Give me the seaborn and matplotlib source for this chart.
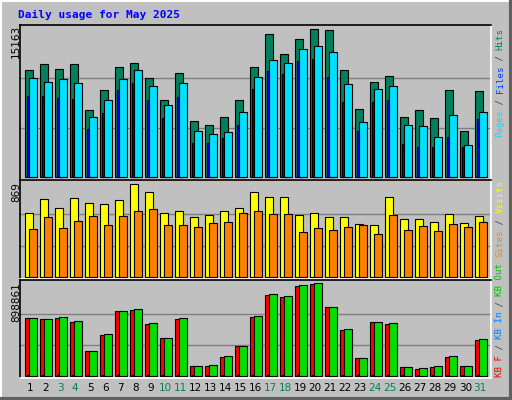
import matplotlib
matplotlib.use("Agg")
import matplotlib.pyplot as plt
import seaborn as sns
import numpy as np

days = list(range(1, 32))
weekend = [3, 4, 10, 11, 17, 18, 24, 25, 31]
hits = [10976, 11594, 11079, 11594, 6860, 8918, 11285, 11696, 10153, 7889, 10667, 5728, 5317, 6140, 7889,
        11285, 14680, 12622, 14166, 15163, 15092, 10976, 6963, 9741, 10359, 6140, 6860, 6037, 8918, 4699, 8815]
files = [8301, 8301, 8095, 7992, 4905, 6551, 8918, 9638, 7889, 6037, 8198, 3464, 3464, 3979, 5317,
         9021, 10873, 10564, 11902, 12108, 10256, 7683, 4699, 7683, 7889, 3361, 3053, 3053, 4082, 3053, 5934]
pages = [10153, 9741, 10050, 9638, 6140, 7889, 10050, 10976, 9330, 7375, 9638, 4699, 4390, 4596, 6654,
         10256, 12005, 11696, 13137, 13446, 12828, 9535, 5625, 9021, 9330, 5317, 5214, 4082, 6346, 3259, 6654]
visits = [593, 723, 639, 733, 686, 677, 714, 863, 788, 593, 611, 556, 574, 611, 639,
          788, 742, 742, 574, 593, 556, 556, 490, 481, 742, 537, 537, 509, 584, 500, 565]
sites = [444, 556, 453, 518, 565, 481, 565, 611, 630, 481, 481, 462, 500, 509, 593,
         611, 584, 584, 416, 453, 435, 462, 481, 397, 574, 435, 472, 425, 490, 462, 509]
kbf = [561000, 552000, 561000, 522000, 240000, 396000, 630000, 639000, 503000, 367000, 552000, 94000, 94000,
       182000, 289000, 571000, 785000, 766000, 873000, 892000, 668000, 445000, 172000, 522000, 503000,
       84000, 65000, 84000, 182000, 94000, 347000]
kbout = [562000, 556000, 568000, 529000, 241000, 402000, 631000, 648000, 511000, 368000, 560000, 95000, 103000,
         191000, 290000, 580000, 794000, 775000, 882000, 898861, 669000, 453000, 173000, 523000, 511000,
         85000, 74000, 92000, 190000, 95000, 356000]
kbin = [3000] * 31
max_hits, max_visits, max_kb = 15163, 869, 898861

sns.set_style("white")
plt.rcParams['font.family'] = ['DejaVu Sans']
fig = plt.figure(figsize=(5.12, 4.0), dpi=100, facecolor="#c0c0c0")
W, H = 512, 400
x0, x1 = 0.317, 0.317 + 471 / 15
bw = 0.49
d = np.array(days, dtype=float)

def mkax(top, bot, ymax, zero_px, top_px):
    ax = fig.add_axes([20 / W, 1 - bot / H, 471 / W, (bot - top) / H])
    ax.set_facecolor("#c0c0c0")
    per = ymax / (zero_px - top_px)
    ax.set_ylim(-(bot - zero_px) * per, ymax + (top_px - top) * per)
    ax.set_xlim(x0, x1)
    ax.set_xticks([]); ax.set_yticks([])
    for v in (ymax / 3, 2 * ymax / 3):
        ax.axhline(v, color="#808080", lw=1, zorder=0)
    for s in ("top", "left"):
        ax.spines[s].set_color("black")
    for s in ("bottom", "right"):
        ax.spines[s].set_color("white")
    for s in ax.spines.values():
        s.set_linewidth(1.2)
    return ax

kw = dict(width=bw, align="edge", edgecolor="black", linewidth=0.8)
a1 = mkax(24.7, 180, max_hits, 176.7, 29.3)
a1.bar(d - 0.33, hits, color="#00805c", **kw)
a1.bar(d - 0.20, files, color="#0000ff", **kw)
a1.bar(d - 0.06, pages, color="#00e0ff", **kw)
a2 = mkax(180, 279, max_visits, 276.7, 183.3)
a2.bar(d - 0.33, visits, color="#ffff00", **kw)
a2.bar(d - 0.06, sites, color="#ff8000", **kw)
a3 = mkax(280, 377.5, max_kb, 375.7, 283.3)
a3.bar(d - 0.33, kbf, color="#ff0000", **kw)
a3.bar(d - 0.20, kbin, color="#0040ff", **kw)
a3.bar(d - 0.06, kbout, color="#00e000", **kw)

for dd in days:
    xp = 20 + (dd - x0) * 15
    fig.text(xp / W, 1 - 388 / H, str(dd), ha="center", va="center", fontsize=7.5,
             color="#00805c" if dd in weekend else "black")

fig.text(18 / W, 1 - 15 / H, "Daily usage for May 2025", fontsize=8, fontweight="bold",
         family="DejaVu Sans Mono", color="#0000ff", va="center", ha="left")
for lab, ytop in (("15163", 25), ("869", 182), ("898861", 282)):
    fig.text(16 / W, 1 - ytop / H, lab, rotation=90, rotation_mode="anchor",
             ha="right", va="center", fontsize=7.5, color="black")

def vlegend(ybot, pieces):
    y = ybot
    for txt, col in pieces:
        fig.text(500 / W, 1 - y / H, txt, rotation=90, rotation_mode="anchor", ha="left",
                 va="center", fontsize=6.6, family="DejaVu Sans Mono", color=col)
        y -= 5.4 * len(txt)

g = "#404040"
vlegend(136.7, [("Pages", "#00e0ff"), (" / ", g), ("Files", "#0040ff"), (" / ", g), ("Hits", "#00805c")])
vlegend(256.7, [("Sites", "#ff8000"), (" / ", g), ("Visits", "#ffff00")])
vlegend(376.7, [("KB F", "#ff0000"), (" / ", g), ("KB In", "#0080ff"), (" / ", g), ("KB Out", "#00c000")])

# outer bevel
fig.add_artist(plt.Line2D([0, 1], [1 - 0.5 / H] * 2, color="white", lw=1.5))
fig.add_artist(plt.Line2D([0.5 / W] * 2, [0, 1], color="white", lw=1.5))
fig.add_artist(plt.Line2D([0, 1], [1.5 / H] * 2, color="#606060", lw=3))
fig.add_artist(plt.Line2D([1 - 1.5 / W] * 2, [0, 1], color="#606060", lw=3))

fig.savefig("out.png", dpi=100, facecolor=fig.get_facecolor())
